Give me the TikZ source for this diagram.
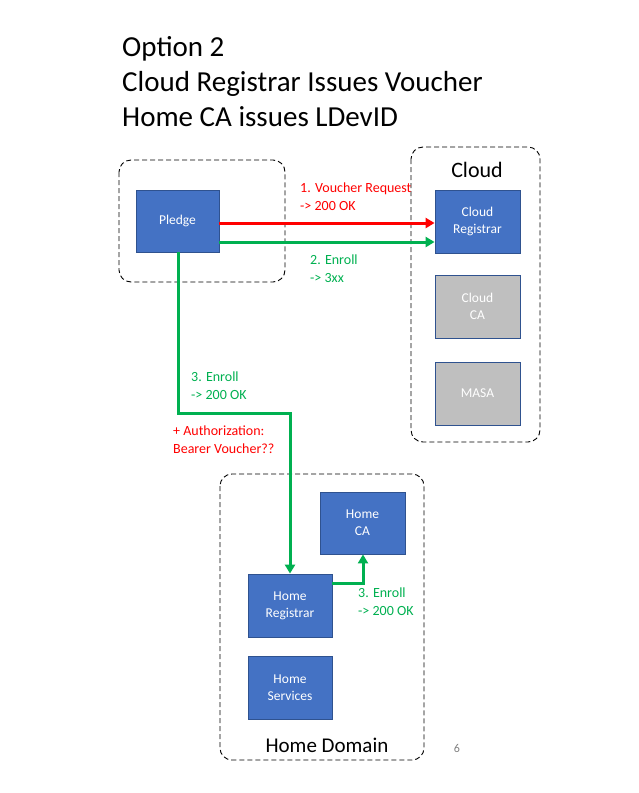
\documentclass[tikz,border=0pt]{standalone}
\usepackage{fontspec}
\setmainfont{Carlito}
\usetikzlibrary{arrows.meta}
\definecolor{boxblue}{HTML}{4472C4}
\definecolor{boxedge}{HTML}{2F528F}
\definecolor{boxgray}{HTML}{BFBFBF}
\definecolor{arrred}{HTML}{FF0000}
\definecolor{arrgreen}{HTML}{00B050}
\tikzset{
  region/.style={draw=black, dashed, dash pattern=on 5pt off 3pt, line width=0.9pt, rounded corners=12pt},
  bluebox/.style={draw=boxedge, fill=boxblue, line width=0.8pt, text=white, font=\fontsize{13.5}{17}\selectfont, align=center, minimum width=84pt, minimum height=62pt, inner sep=0pt},
  graybox/.style={bluebox, fill=boxgray},
  redarrow/.style={draw=arrred, line width=3pt, -{Triangle[length=9pt,width=10pt]}},
  greenarrow/.style={draw=arrgreen, line width=3pt, -{Triangle[length=9pt,width=10pt]}},
  redlbl/.style={text=arrred, font=\fontsize{14}{18}\selectfont, align=left, anchor=north west, inner sep=0pt},
  greenlbl/.style={redlbl, text=arrgreen},
  title/.style={font=\fontsize{29}{35}\selectfont, align=left, anchor=north west, inner sep=0pt},
}
\begin{document}
\begin{tikzpicture}[x=1pt,y=-1pt]
\useasboundingbox (0,0) rectangle (638,793);
% title
\node[title] (ttl) at (122,36.5) {Option 2\\Cloud Registrar Issues Voucher\\Home CA issues LDevID};
% regions
\draw[region] (119,160) rectangle (285,282);
\draw[region] (411,147) rectangle (540,442);
\draw[region] (220,474) rectangle (424,760);
\node[font=\fontsize{22}{24}\selectfont, inner sep=0pt] (cloudlbl) at (477,170) {Cloud};
\node[font=\fontsize{21}{24}\selectfont, inner sep=0pt] (homelbl) at (327,745) {Home Domain};
\node[text=gray, font=\fontsize{12}{14}\selectfont, inner sep=0pt] (pg) at (457,748) {6};
% boxes
\node[bluebox, minimum width=83pt] (pledge) at (177.5,221) {Pledge};
\node[bluebox, minimum width=85pt, minimum height=63pt] (creg) at (477.5,221.5) {Cloud\\Registrar};
\node[graybox, minimum width=85pt, minimum height=63pt] (cca) at (477.5,306.5) {Cloud\\CA};
\node[graybox, minimum width=85pt, minimum height=63pt] (masa) at (477.5,393.5) {MASA};
\node[bluebox, minimum width=85pt] (hca) at (362.5,523) {Home\\CA};
\node[bluebox, minimum height=63pt] (hreg) at (290,605.5) {Home\\Registrar};
\node[bluebox, minimum height=63pt] (hsvc) at (290,687.5) {Home\\Services};
% arrows
\draw[redarrow] (pledge.east |- 0,223) -- (creg.west |- 0,223);
\draw[greenarrow] (pledge.east |- 0,242) -- (creg.west |- 0,242);
\draw[greenarrow] (pledge.south -| 178,0) -- (178,413) -- (290,413) -- (hreg.north);
\draw[greenarrow] (hreg.east |- 0,583) -- (363,583) -- (hca.south -| 363,0);
% labels
\node[redlbl] (l1) at (300,183) {1. Voucher Request\\-> 200 OK};
\node[greenlbl] (l2) at (310,255) {2. Enroll\\-> 3xx};
\node[greenlbl] (l3) at (191,372) {3. Enroll\\-> 200 OK};
\node[redlbl] (l4) at (173,426) {+ Authorization:\\Bearer Voucher??};
\node[greenlbl] (l5) at (358,588) {3. Enroll\\-> 200 OK};
\end{tikzpicture}
\end{document}
